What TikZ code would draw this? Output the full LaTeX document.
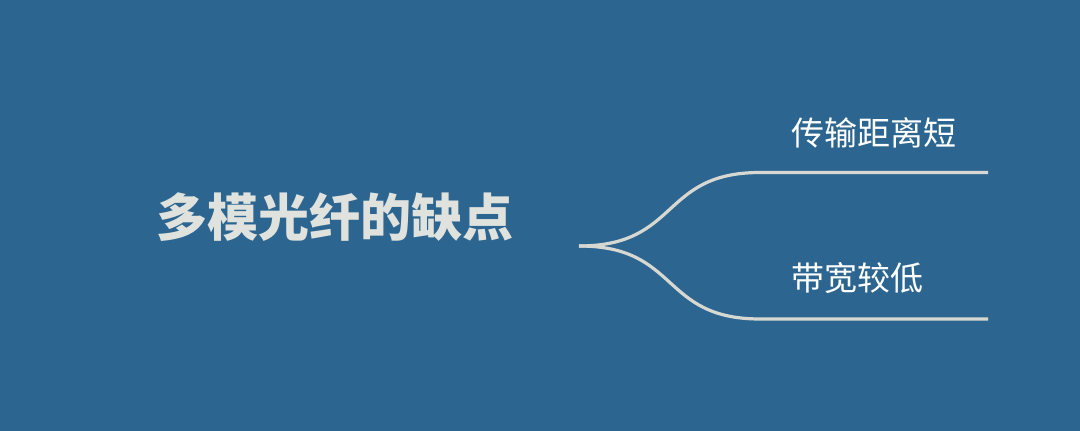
\documentclass[tikz,border=0pt]{standalone}
\usepackage{fontspec}
\newfontfamily\cjk{Noto Sans CJK SC}
\usetikzlibrary{positioning}
\definecolor{bgblue}{RGB}{44,102,144}
\definecolor{linegray}{RGB}{216,216,210}
\definecolor{titlegray}{RGB}{224,226,222}

\begin{document}
\begin{tikzpicture}[x=1pt, y=1pt,
    title/.style={font=\cjk\bfseries\fontsize{51}{56}\selectfont, text=titlegray, inner sep=0pt},
    leaf/.style={font=\cjk\fontsize{33}{38}\selectfont, text=white, inner sep=0pt, anchor=west},
    branch/.style={draw=linegray, line width=3.2pt}]

  % background and fixed frame
  \fill[bgblue] (0,0) rectangle (1080,431);
  \useasboundingbox (0,0) rectangle (1080,431);

  \node[title] (root) at (335,214) {多模光纤的缺点};

  \coordinate (fork) at (579,185);
  \coordinate (bend1) at (760,258.5);
  \coordinate (end1) at (988,258.5);
  \coordinate (bend2) at (760,112);
  \coordinate (end2) at (988,112);

  \draw[branch] (fork) .. controls (680,185) and (660,258.5) .. (bend1) -- (end1);
  \draw[branch] (fork) .. controls (680,185) and (660,112) .. (bend2) -- (end2);

  \node[leaf] (leaf1) at (791,298) {传输距离短};
  \node[leaf] (leaf2) at (791,153) {带宽较低};
\end{tikzpicture}
\end{document}
